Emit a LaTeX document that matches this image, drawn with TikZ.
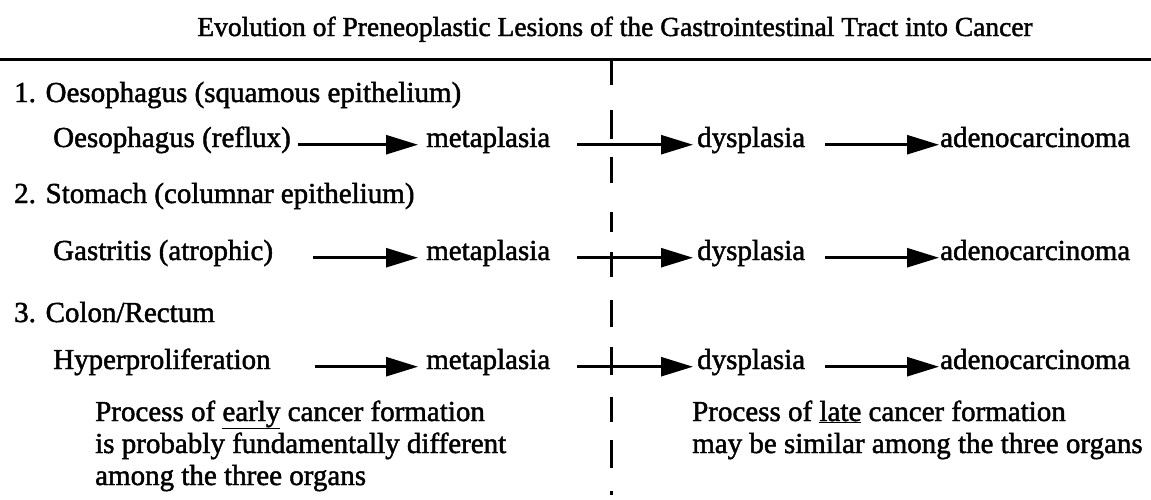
\documentclass[tikz,border=0pt]{standalone}
\usepackage{fontspec}
\setmainfont[FakeBold=1.6]{Liberation Serif}
\usetikzlibrary{arrows.meta}
\begin{document}
\begin{tikzpicture}[x=1pt,y=-1pt,
  txt/.style={inner sep=0pt, anchor=base west, font=\fontsize{29}{32}\selectfont},
  ttl/.style={inner sep=0pt, anchor=base, font=\fontsize{27.5}{32}\selectfont},
  arr/.style={line width=2.6pt, -{Triangle[length=32pt,width=19pt]}},
  rule/.style={line width=3pt},
  divider/.style={line width=3pt}]
\useasboundingbox (0,0) rectangle (1151,499);
% title and rule
\node[ttl] (title) at (615,36) {Evolution of Preneoplastic Lesions of the Gastrointestinal Tract into Cancer};
\coordinate (ruleL) at (0,59);
\coordinate (ruleR) at (1151,59);
\draw[rule] (ruleL) -- (ruleR);
% headers
\node[txt] (h1) at (14,102) {1. Oesophagus (squamous epithelium)};
\node[txt] (h2) at (14,203) {2. Stomach (columnar epithelium)};
\node[txt] (h3) at (14,322) {3. Colon/Rectum};
% row 1
\node[txt] (r1a) at (53,147) {Oesophagus (reflux)};
\node[txt] (r1m) at (426,147) {metaplasia};
\node[txt] (r1d) at (697,147) {dysplasia};
\node[txt] (r1c) at (940,147) {adenocarcinoma};
% row 2
\node[txt] (r2a) at (53,260) {Gastritis (atrophic)};
\node[txt] (r2m) at (426,260) {metaplasia};
\node[txt] (r2d) at (697,260) {dysplasia};
\node[txt] (r2c) at (940,260) {adenocarcinoma};
% row 3
\node[txt] (r3a) at (53,369) {Hyperproliferation};
\node[txt] (r3m) at (426,369) {metaplasia};
\node[txt] (r3d) at (697,369) {dysplasia};
\node[txt] (r3c) at (940,369) {adenocarcinoma};
% arrows
\foreach \r/\s in {1/7pt,2/40pt,3/44pt}{
  \draw[arr] ([xshift=\s]r\r a.mid east) -- ([xshift=-8pt]r\r m.mid west);
  \draw[arr] ([xshift=27pt]r\r m.mid east) -- ([xshift=-4pt]r\r d.mid west);
  \draw[arr] ([xshift=20pt]r\r d.mid east) -- ([xshift=-1pt]r\r c.mid west);
}
% paragraphs
\node[txt] (pl1) at (95,421) {Process of \underline{early} cancer formation};
\node[txt] (pl2) at (95,453) {is probably fundamentally different};
\node[txt] (pl3) at (95,485) {among the three organs};
\node[txt] (pr1) at (692,421) {Process of \underline{late} cancer formation};
\node[txt] (pr2) at (692,453) {may be similar among the three organs};
% dashed divider
\draw[divider] (611,60) -- (611,85)
  (611,110) -- (611,139)
  (611,157) -- (611,183)
  (611,212) -- (611,232)
  (611,252) -- (611,277)
  (611,300) -- (611,327)
  (611,347) -- (611,375)
  (611,397) -- (611,422)
  (611,440) -- (611,468)
  (611,491) -- (611,495);
\end{tikzpicture}
\end{document}
